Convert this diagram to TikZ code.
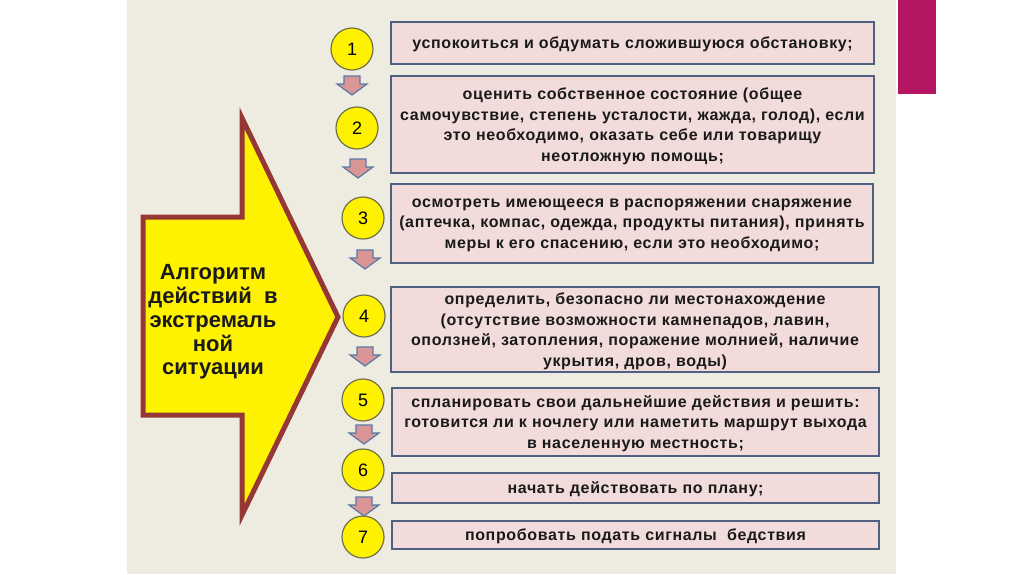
\documentclass[tikz,border=0pt]{standalone}
\usepackage{fontspec}
\setmainfont{Liberation Sans}
\newfontfamily\cardfont[LetterSpace=4]{Liberation Sans}
\usetikzlibrary{positioning}
\definecolor{bgTan}{HTML}{EEECE1}
\definecolor{boxPink}{HTML}{F2DCDB}
\definecolor{boxEdge}{HTML}{4F6080}
\definecolor{arrowPink}{HTML}{D99694}
\definecolor{arrowEdge}{HTML}{5878A6}
\definecolor{bigEdge}{HTML}{953735}
\definecolor{ringEdge}{HTML}{707048}
\definecolor{accentMag}{HTML}{B41662}
\definecolor{textDark}{HTML}{1A1A1A}

\begin{document}
\begin{tikzpicture}[x=1pt, y=-1pt,
  stepcard/.style={draw=boxEdge, fill=boxPink, line width=1.8pt, align=center, inner sep=0pt,
                   text=textDark, font=\cardfont\bfseries\fontsize{16}{20.5}\selectfont, text depth=-2pt},
  multicard/.style={stepcard, text depth=-7pt},
  numdot/.style={circle, draw=ringEdge, fill=yellow, line width=1.2pt, minimum size=42pt,
                 inner sep=0pt, font=\fontsize{18}{18}\selectfont},
  dnarrow/.style={draw=arrowEdge, fill=arrowPink, line width=1.2pt, line join=miter},
  bigarrow/.style={draw=bigEdge, fill=yellow, line width=5pt, line join=miter},
]
  \useasboundingbox (0,0) rectangle (1024,574);
  \fill[white] (0,0) rectangle (1024,574);
  \fill[bgTan] (127,0) rectangle (896,574);
  \fill[accentMag] (898,0) rectangle (936,94);

  % big arrow
  \draw[bigarrow] (143,217) -- (242,217) -- (242,118) -- (338,317) -- (242,515)
    -- (242,415) -- (143,415) -- cycle;
  \node[font=\bfseries\fontsize{22}{23.8}\selectfont, align=center, text=textDark] (title) at (213,322)
    {Алгоритм\\действий\ \ в\\экстремаль\\ной\\ситуации};

  % steps
  \node[stepcard, minimum width=483pt, minimum height=42pt] (s1) at (632.5,43)
    {успокоиться и обдумать сложившуюся обстановку;};
  \node[multicard, minimum width=483pt, minimum height=97pt] (s2) at (632.5,124.5)
    {оценить собственное состояние (общее\\самочувствие, степень усталости, жажда, голод), если\\это необходимо, оказать себе или товарищу\\неотложную помощь;};
  \node[multicard, minimum width=482pt, minimum height=79pt] (s3) at (632,223.5)
    {осмотреть имеющееся в распоряжении снаряжение\\(аптечка, компас, одежда, продукты питания), принять\\меры к его спасению, если это необходимо;};
  \node[multicard, minimum width=488pt, minimum height=85pt] (s4) at (635,329.5)
    {определить, безопасно ли местонахождение\\(отсутствие возможности камнепадов, лавин,\\оползней, затопления, поражение молнией, наличие\\укрытия, дров, воды)};
  \node[multicard, minimum width=487pt, minimum height=68pt] (s5) at (635.5,422)
    {спланировать свои дальнейшие действия и решить:\\готовится ли к ночлегу или наметить маршрут выхода\\в населенную местность;};
  \node[stepcard, minimum width=487pt, minimum height=30pt] (s6) at (635.5,488)
    {начать действовать по плану;};
  \node[stepcard, minimum width=487pt, minimum height=28pt] (s7) at (635.5,535)
    {попробовать подать сигналы\ \ бедствия};

  % numbered dots
  \foreach \n/\x/\y in {1/352/49, 2/357/128, 3/363/218, 4/364/316, 5/363/400, 6/363/470, 7/363/537}{
    \node[numdot] (d\n) at (\x,\y) {\n};}

  % small down arrows between dots
  \foreach \x/\y in {352/76, 358/159, 365/250, 365/347, 364/425, 364/497}{
    \draw[dnarrow] ({\x-8},\y) -- ({\x+8},\y) -- ({\x+8},{\y+8}) -- ({\x+15},{\y+8})
      -- (\x,{\y+19}) -- ({\x-15},{\y+8}) -- ({\x-8},{\y+8}) -- cycle;}
\end{tikzpicture}
\end{document}
